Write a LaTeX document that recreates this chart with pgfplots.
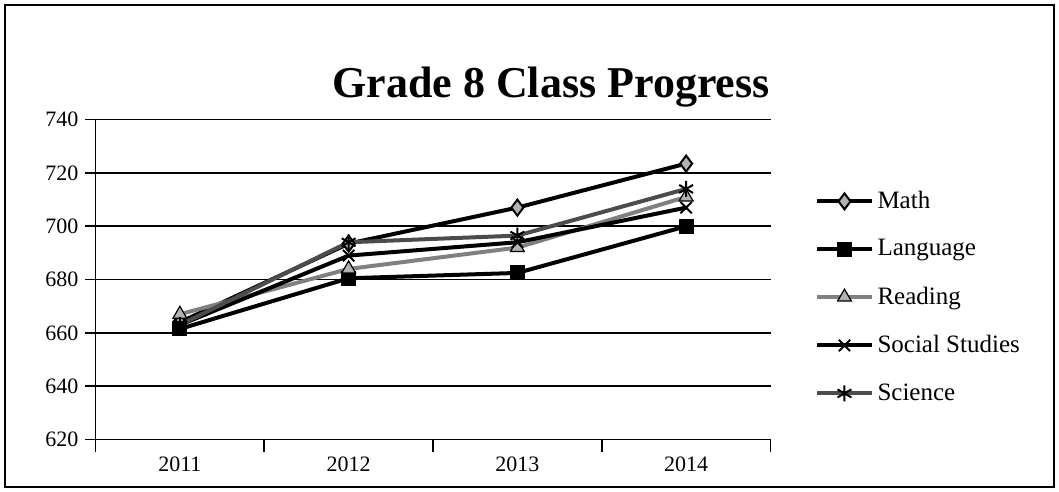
\documentclass[border=0pt]{standalone}
\usepackage{fontspec}
\setmainfont{Liberation Serif}
\usepackage{pgfplots}
\pgfplotsset{compat=1.18}
\begin{document}
\begin{tikzpicture}
\begin{axis}[
  at={(0,0)}, anchor=south west,
  scale only axis, width=337.5pt, height=160pt,
  xmin=-0.5, xmax=3.5, ymin=620, ymax=740,
  xtick={0,1,2,3}, xticklabels={2011,2012,2013,2014},
  major x tick style={draw=none},
  minor xtick={-0.5,0.5,1.5,2.5,3.5},
  minor x tick style={black, thick},
  minor tick length=6pt,
  ytick={620,640,...,740},
  ymajorgrids, grid style={black, thick},
  axis x line*=bottom, axis y line*=left,
  axis line style={black, thick, -},
  tick align=outside, major tick length=5pt,
  y tick style={black, thick},
  tick label style={font=\fontsize{11}{13}\selectfont},
  /pgf/number format/assume math mode=true,
  /pgf/number format/1000 sep={},
  legend style={draw=none, at={(1.066,0.79)}, anchor=north west, font=\fontsize{12.5}{14}\selectfont, row sep=10pt, inner sep=0pt},
  legend cell align=left,
  legend image code/.code={\draw[#1] (0cm,0cm) -- (0.95cm,0cm); \draw[#1] plot coordinates {(0.475cm,0cm)};},
  every axis plot/.append style={line width=2pt, mark size=4pt},
]
\addplot[black, mark=diamond*, mark options={fill=gray!60, line width=1pt}] coordinates {(0,664) (1,693.5) (2,707) (3,723.5)};
\addlegendentry{Math}
\addplot[black, mark=square*, mark size=3.5pt, mark options={fill=black, line width=0.5pt}] coordinates {(0,661.5) (1,680.5) (2,682.5) (3,700)};
\addlegendentry{Language}
\addplot[gray, mark=triangle*, mark options={fill=gray!60, draw=black, line width=0.6pt}] coordinates {(0,667) (1,684) (2,692) (3,711)};
\addlegendentry{Reading}
\addplot[black, mark=x, mark options={line width=1pt}] coordinates {(0,663) (1,689) (2,694) (3,707)};
\addlegendentry{Social Studies}
\addplot[black!70, mark=asterisk, mark options={black, line width=1pt}] coordinates {(0,663) (1,694) (2,696.5) (3,714)};
\addlegendentry{Science}
\end{axis}
\node[font=\bfseries\fontsize{22}{26}\selectfont] at (227.75pt,176.3pt) {Grade 8 Class Progress};
\draw[black, thick] (-45.25pt,-23.7pt) rectangle (479.25pt,217.3pt);
\path[use as bounding box] (-47.75pt,-26.2pt) rectangle (481.75pt,219.8pt);
\end{tikzpicture}
\end{document}
